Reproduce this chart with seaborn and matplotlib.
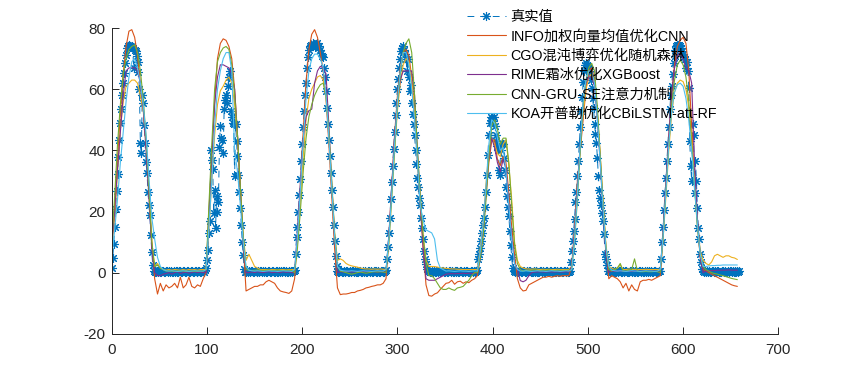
import numpy as np
import matplotlib
matplotlib.use("Agg")
import matplotlib.pyplot as plt
import seaborn as sns

# ---------------- data ----------------
# true values, one value per sample index (0..659), written per day-cycle / night segment
true_c1 = [1.6, 4.9, 9.3, 14.8, 20.8, 26.8, 32.3, 37.8, 43.3, 48.8,
           53.7, 58.1, 61.9, 65.2, 68.5, 71.2, 73.4, 74.2, 74.5, 74.0,
           73.8, 74.3, 73.5, 66.8, 73.0, 72.5, 71.0, 69.0, 65.7, 60.0,
           42.3, 39.0, 58.1, 55.4, 48.3, 42.3, 36.3, 32.5, 26.5, 22.0,
           18.8, 12.3, 6.8, 2.4, 0.6, 0.2]
true_f1 = [0.3, 0.5, 0.2, 0.4, 0.6, 0.3, 0.1, 0.4, 0.5, 0.2,
           0.3, 0.6, 0.4, 0.2, 0.5, 0.3, 0.4, 0.1, 0.3, 0.5,
           0.2, 0.4, 0.6, 0.3, 0.2, 0.5, 0.4, 0.3, 0.1, 0.4,
           0.5, 0.2, 0.3, 0.6, 0.4, 0.2, 0.3, 0.5, 0.4, 0.1,
           0.3, 0.4, 0.6, 0.2, 0.3, 0.5, 0.4, 0.2, 0.3, 0.4,
           0.5]
true_c2 = [0.3, 0.8, 1.5, 4.0, 7.5, 13.0, 17.0, 40.0, 37.0, 34.0,
           19.5, 27.0, 14.5, 25.0, 20.0, 23.0, 41.0, 48.0, 44.0, 43.5,
           39.0, 53.5, 56.5, 58.0, 55.5, 61.0, 64.0, 66.0, 53.0, 51.0,
           49.0, 48.5, 31.5, 48.5, 43.0, 38.0, 32.0, 26.5, 21.0, 15.5,
           10.0, 5.7, 1.3, 0.3]
true_f2 = [0.2, 0.4, 0.3, 0.5, 0.1, 0.4, 0.6, 0.3, 0.2, 0.5,
           0.4, 0.3, 0.1, 0.5, 0.2, 0.4, 0.6, 0.3, 0.4, 0.2,
           0.5, 0.3, 0.1, 0.4, 0.6, 0.2, 0.3, 0.5, 0.4, 0.2,
           0.3, 0.6, 0.4, 0.1, 0.3, 0.5, 0.2, 0.4, 0.3, 0.5,
           0.6, 0.2, 0.4, 0.3, 0.1, 0.5, 0.3, 0.4, 0.2, 0.5,
           0.6]
true_c3 = [1.0, 6.0, 11.5, 15.0, 20.0, 25.5, 30.5, 36.5, 42.0, 47.5,
           53.0, 58.0, 62.0, 67.0, 70.5, 73.0, 74.0, 74.5, 74.0, 75.0,
           74.5, 74.0, 74.5, 75.0, 74.0, 73.5, 74.0, 73.0, 72.0, 71.0,
           70.5, 67.0, 64.0, 59.5, 54.0, 48.5, 43.5, 38.0, 32.5, 27.0,
           21.5, 15.5, 10.5, 5.5, 2.3, 0.5]
true_f3 = [0.3, 0.2, 0.5, 0.4, 0.1, 0.3, 0.6, 0.2, 0.4, 0.5,
           0.3, 0.1, 0.4, 0.2, 0.5, 0.6, 0.3, 0.4, 0.2, 0.1,
           0.5, 0.3, 0.4, 0.6, 0.2, 0.3, 0.5, 0.1, 0.4, 0.3,
           0.2, 0.5, 0.4, 0.3, 0.6, 0.1, 0.2, 0.4, 0.5, 0.3,
           0.4, 0.2, 0.6, 0.3, 0.1, 0.5, 0.4, 0.2, 0.3]
true_c4 = [0.5, 1.0, 4.5, 8.5, 13.0, 18.0, 24.0, 29.5, 35.0, 40.5,
           46.0, 51.5, 55.5, 60.0, 63.5, 67.0, 70.0, 72.5, 73.5, 74.0,
           73.0, 71.5, 70.0, 66.0, 70.0, 64.0, 59.5, 61.5, 55.5, 52.0,
           48.5, 45.0, 40.0, 35.5, 31.0, 28.0, 24.5, 22.0, 18.0, 14.5,
           11.0, 7.0, 4.5, 2.8, 1.2, 0.4]
true_f4 = [0.4, 0.2, 0.3, 0.5, 0.1, 0.6, 0.3, 0.4, 0.2, 0.5,
           0.3, 0.4, 0.1, 0.2, 0.6, 0.5, 0.3, 0.2, 0.4, 0.1,
           0.3, 0.5, 0.6, 0.2, 0.4, 0.3, 0.1, 0.5, 0.2, 0.4,
           0.6, 0.3, 0.2, 0.4, 0.5, 0.1, 0.3, 0.6, 0.2, 0.4,
           0.5, 0.3, 0.2, 0.1, 0.4, 0.6, 0.3, 0.5, 0.2, 0.4]
true_c5 = [0.5, 1.0, 4.5, 6.0, 8.0, 10.5, 13.0, 15.5, 18.0, 21.5,
           26.5, 32.0, 38.5, 45.0, 49.0, 51.0, 50.5, 49.5, 51.0, 48.0,
           45.0, 43.0, 41.5, 40.0, 33.5, 32.0, 40.0, 42.5, 42.0, 37.5,
           33.5, 28.0, 25.0, 21.5, 18.5, 13.5, 9.0, 5.0, 1.6, 0.4]
true_f5 = [0.2, 0.4, 0.5, 0.3, 0.1, 0.6, 0.4, 0.2, 0.3, 0.5,
           0.4, 0.1, 0.3, 0.6, 0.2, 0.5, 0.4, 0.3, 0.2, 0.1,
           0.5, 0.3, 0.4, 0.6, 0.2, 0.1, 0.3, 0.5, 0.4, 0.2,
           0.6, 0.3, 0.1, 0.4, 0.5, 0.2, 0.3, 0.4, 0.6, 0.1,
           0.2, 0.5, 0.3, 0.4, 0.2, 0.6, 0.1, 0.3, 0.5, 0.4,
           0.2, 0.3, 0.6, 0.4, 0.1, 0.5, 0.3, 0.2]
true_c6 = [0.5, 3.5, 7.0, 10.5, 13.5, 17.5, 23.0, 26.5, 31.5, 36.5,
           42.0, 47.5, 53.0, 57.5, 62.5, 66.0, 68.0, 68.5, 68.0, 67.5,
           66.5, 65.0, 63.0, 60.5, 57.0, 54.0, 48.5, 45.5, 42.5, 37.5,
           31.5, 27.0, 24.5, 22.0, 19.5, 17.0, 12.5, 6.0, 4.5, 2.5,
           0.5]
true_f6 = [0.5, 0.3, 0.2, 0.4, 0.6, 0.1, 0.3, 0.5, 0.2, 0.4,
           0.3, 0.6, 0.4, 0.1, 0.2, 0.5, 0.3, 0.4, 0.6, 0.2,
           0.1, 0.3, 0.5, 0.4, 0.2, 0.6, 0.3, 0.1, 0.4, 0.5,
           0.2, 0.3, 0.4, 0.6, 0.1, 0.5, 0.2, 0.3, 0.4, 0.2,
           0.6, 0.3, 0.5, 0.1, 0.4, 0.2, 0.3, 0.6, 0.4, 0.5,
           0.2, 0.1, 0.3, 0.4]
true_c7 = [0.5, 4.5, 10.0, 15.0, 20.5, 26.0, 31.0, 36.5, 42.0, 47.5,
           53.5, 58.0, 61.0, 65.0, 68.5, 71.0, 73.0, 74.0, 74.5, 74.5,
           74.5, 74.0, 73.5, 72.5, 71.5, 70.5, 70.0, 67.0, 69.0, 66.0,
           60.5, 43.0, 35.0, 30.0, 48.5, 45.0, 26.0, 36.5, 30.0, 21.0,
           14.5, 11.0, 6.0, 3.5, 1.3, 0.4]
true_f7 = [0.3, 0.5, 0.2, 0.4, 0.1, 0.6, 0.3, 0.2, 0.5, 0.4,
           0.1, 0.3, 0.6, 0.2, 0.4, 0.5, 0.3, 0.1, 0.2, 0.4,
           0.6, 0.3, 0.5, 0.2, 0.1, 0.4, 0.3, 0.5, 0.6, 0.2,
           0.4, 0.1, 0.3, 0.5, 0.2, 0.4, 0.3, 0.6]

# model predictions, read every 3rd sample (0, 3, 6, ..., 657)
info_cnn = [10, 22, 37, 52, 65, 74, 79, 79.5, 77, 71, 62, 54, 42, 26, 10, -2,
            -7, -3.5, -6, -4, -5, -4.5, -3.5, -5, -1.5, -5, -4, -1.5, -4.5, -5, -4, -4.5, -2,
            0, 20, 38, 56, 70, 75, 76.5, 76, 74, 70, 60, 45, 28, 10, -6,
            -5.5, -5, -4.5, -4.5, -4, -4, -3, -2.5, -3, -3.5, -5, -6, -6.3, -6.5, -6.8, -6,
            -2, 12, 28, 46, 62, 73, 78, 79.5, 77, 72, 66, 57, 42, 25, 8, -5,
            -7.2, -7, -7, -6.8, -6.5, -6.5, -6, -5.8, -5.5, -5, -4.8, -4.5, -4.3, -4, -4, -3.5,
            -2, 12, 28, 45, 58, 67, 72, 73, 71, 64, 52, 36, 22, 8, -4, -7.5,
            -7.7, -7, -6.6, -5.5, -4.5, -3.5, -3.3, -2.5, -3.8, -3, -2.8, -3.5, -3, -3.3, -2.5, -2,
            -1, 5, 13, 25, 36, 43, 43.5, 37, 35, 38, 36, 26, 15, 6,
            -2, -5, -6, -5.8, -4, -3.5, -3, -2.5, -2, -1.5, -1.5, -1.2, -1.5, -1.2, -1, -1.2, -1, -1, -1,
            2, 14, 30, 40, 50, 60, 66, 67, 63, 52, 38, 22, 8, -2,
            -1, -1.5, -2, -3, -5, -3.5, -6, -4, -5.5, -6, -3, -2.5, -2.5, -2.2, -2.5, -2, -1.5,
            -1, 12, 28, 44, 58, 68, 74, 76, 77, 75, 66, 48, 30, 16, 5, 1,
            0.5, 0, -0.5, -1, -1.5, -2, -2.5, -3, -3.5, -4, -4.3, -4.5]
cgo_rf = [8, 18, 33, 47, 56, 61, 62, 63, 63, 62, 58, 53, 42, 27, 10, 2,
          3, 1.5, 1, 0.8, 1, 0.8, 1, 0.9, 0.8, 1, 0.8, 1, 0.9, 1, 0.8, 1, 1,
          1, 14, 30, 45, 55, 59.5, 61, 63, 64, 62, 55, 44, 28, 12, 4,
          6, 4, 2, 1.5, 1, 1, 1, 0.9, 1, 1, 0.9, 1, 1, 0.9, 1, 1,
          1, 10, 24, 38, 50, 57, 60, 62, 64, 64.5, 63, 57, 45, 29, 13, 4,
          4.5, 4, 3, 2.5, 2.2, 2, 1.8, 1.5, 1.3, 1.2, 1.2, 1.1, 1.2, 1.1, 1.2, 1.1,
          1, 10, 25, 40, 53, 62, 68, 70, 69, 63, 52, 38, 24, 12, 4, 2,
          2, 2, 1.8, 1.6, 1.5, 1.4, 1.3, 1.2, 1.2, 1.1, 1.1, 1, 1, 1, 1, 1,
          1, 8, 16, 29, 40, 44, 42, 39, 38, 42, 43.5, 35, 24, 10,
          4, 2, 1.5, 1.2, 1.2, 1.1, 1.2, 1.1, 1, 1.1, 1, 1.1, 1, 1, 1.1, 1, 1, 1, 1,
          2, 13, 28, 41, 52, 60, 64, 65, 62, 52, 38, 23, 9, 2,
          1.5, 1, 1.5, 2.5, 1, 1, 1.2, 1, 1.1, 1, 1, 1, 1.1, 1, 1, 1, 1,
          1, 11, 25, 40, 52, 59, 62, 63, 62.5, 60, 54, 44, 30, 17, 7, 4,
          3, 2.5, 3.5, 5.5, 6, 5.5, 5, 5.5, 5.5, 5, 4.8, 4.3]
rime_xgb = [9, 20, 34, 46, 58, 66, 67, 67, 67, 66, 62, 54, 40, 25, 8, 0,
            -1, -1, -0.5, -0.3, 0, -0.5, 0, 0.3, -0.3, 0, 0.2, -0.2, 0, 0.3, 0, 0.2, 0,
            0, 18, 38, 55, 64, 68, 68, 67.5, 67, 65, 60, 45, 27, 10, 0,
            0, 0.2, 0, 0.3, 0.1, 0, 0.2, 0.3, 0, 0.1, 0.2, 0, 0.3, 0.1, 0.2, 0,
            0, 14, 29, 44, 51, 53, 53.5, 62, 66, 67.5, 67, 65, 48, 29, 12, 0,
            0.3, 0.2, 0.4, 0.3, 0.2, 0.3, 0.4, 0.2, 0.3, 0.3, 0.2, 0.4, 0.3, 0.2, 0.3, 0.3,
            0, 12, 28, 44, 56, 63, 66, 66, 66, 66, 58, 40, 24, 8, -2, -2.5,
            -2.5, -2.5, -2, -1.5, -1, -0.5, -0.4, -0.3, -0.4, -0.3, -0.3, -0.2, -0.3, -0.2, -0.3, -0.2,
            0, 6, 14, 26, 38, 44, 41, 36, 33, 37, 34, 22, 12, 3,
            1, -2.6, -3, -2.5, -1, 0, 0.2, 0.2, 0.3, 0.2, 0.2, 0.3, 0.2, 0.2, 0.3, 0.2, 0.2, 0.3, 0.2,
            2, 13, 28, 42, 55, 62, 64, 64, 61, 50, 36, 20, 6, 0,
            0.5, 0.4, 0.5, 0.6, 0.4, 0.5, 0.5, 0.4, 0.5, 0.6, 0.4, 0.5, 0.5, 0.4, 0.5, 0.5, 0.4,
            0, 14, 30, 45, 58, 67, 71, 72, 70, 67, 66, 62, 36, 18, 5, 0,
            0.5, 0.6, 0.7, 0.7, 0.8, 0.8, 0.8, 0.8, 0.9, 0.8, 0.8, 0.8]
cnn_gru_se = [10, 25, 42, 55, 65, 70, 73, 74, 74.5, 72, 66, 57, 44, 28, 10, 2,
              2.5, 1.5, 1, 0.5, 0.6, 0.5, 0.4, 0.5, 0.6, 0.5, 0.4, 0.5, 0.5, 0.4, 0.5, 0.6, 0.5,
              1, 22, 42, 60, 69, 72, 73.5, 74, 73, 68, 58, 45, 28, 12, 1,
              0.8, 0.7, 0.8, 0.9, 0.8, 0.7, 0.8, 0.8, 0.7, 0.8, 0.9, 0.8, 0.7, 0.8, 0.8, 0.7,
              0, 8, 20, 33, 44, 51, 55, 58, 60, 61.5, 62, 58, 46, 30, 13, 2,
              0.5, 0.3, 0, -0.3, -0.5, -0.3, 0, 0.2, 0, -0.2, 0, 0.2, 0.3, 0.2, 0.3, 0.2,
              0, 10, 25, 40, 55, 65, 72, 75, 76.5, 72, 58, 40, 25, 12, 3, -1,
              -1, -2, -3.5, -5, -5.5, -5.5, -5, -5.5, -5.8, -5, -4.8, -4.5, -3.5, -2.5, -1, 0,
              0, 5, 12, 24, 38, 48, 50, 47, 42, 44, 44, 36, 22, 9,
              3, 1, 0.5, 0.8, 0.7, 0.8, 0.9, 0.8, 0.7, 0.8, 0.8, 0.9, 0.8, 0.7, 0.8, 0.8, 0.7, 0.8, 0.8,
              1, 10, 24, 40, 55, 63, 67, 68.5, 66, 54, 38, 22, 8, 1,
              0.5, 1, 1.5, 3, 0.5, 0.5, 0.8, 1, 4.5, 0.5, 0.3, 0.3, 0.4, 0.3, 0.3, 0.4, 0.3,
              0, 12, 27, 42, 55, 63, 68, 69.5, 68, 64, 56, 42, 28, 15, 6, 2,
              1, 0.5, 0, -0.3, -0.5, -0.8, -1, -1.3, -1.6, -1.9, -2.1, -2.3]
koa_cbilstm = [5, 14, 24, 36, 46, 56, 64, 69, 70, 67, 62, 55, 45, 31, 18, 11,
               5, 2, 1, 0.6, 0.5, 0.6, 0.5, 0.4, 0.5, 0.6, 0.5, 0.4, 0.5, 0.6, 0.5, 0.5, 0.5,
               1, 15, 30, 48, 60, 66, 70, 72, 72, 66, 40, 33, 22, 10, 2,
               0.8, 0.6, 0.5, 0.6, 0.5, 0.4, 0.5, 0.6, 0.5, 0.5, 0.4, 0.5, 0.6, 0.5, 0.5, 0.4,
               1, 12, 27, 43, 57, 66, 70, 71.5, 71.5, 70, 67, 58, 44, 28, 12, 2,
               0.8, 0.6, 0.5, 0.5, 0.6, 0.5, 0.4, 0.5, 0.6, 0.5, 0.5, 0.4, 0.5, 0.6, 0.5, 0.5,
               1, 11, 26, 42, 56, 66, 72, 72, 68, 60, 50, 36, 22, 17, 14, 13.5,
               13, 11, 4, 1.5, 1, 0.5, 0.6, 0.5, 0.4, 0.5, 0.6, 0.5, 0.5, 0.4, 0.5, 0.6,
               0.5, 7, 16, 28, 42, 50, 49, 44, 40, 41, 33, 22, 11, 3,
               1, 0.5, 0.5, 0.6, 0.5, 0.4, 0.5, 0.6, 0.5, 0.5, 0.4, 0.5, 0.6, 0.5, 0.5, 0.4, 0.5, 0.6, 0.5,
               1, 11, 26, 42, 56, 63, 66, 66, 62, 50, 36, 21, 8, 2,
               0.8, 0.6, 0.5, 0.6, 0.5, 0.4, 0.5, 0.6, 0.5, 0.5, 0.4, 0.5, 0.6, 0.5, 0.5, 0.4, 0.5,
               1, 12, 27, 42, 53, 59, 61.5, 62, 61, 57, 50, 40, 28, 16, 6, 2,
               2, 2.2, 2.3, 2.3, 2.4, 2.4, 2.5, 2.5, 2.5, 2.5, 2.5, 2.5]

labels = ["真实值", "INFO加权向量均值优化CNN", "CGO混沌博弈优化随机森林",
          "RIME霜冰优化XGBoost", "CNN-GRU-SE注意力机制", "KOA开普勒优化CBiLSTM-att-RF"]
colors = ["#0072BD", "#D95319", "#EDB120", "#7E2F8E", "#77AC30", "#4DBEEE"]
x_ticks = [0, 100, 200, 300, 400, 500, 600, 700]
y_ticks = [-20, 0, 20, 40, 60, 80]

# ---------------- plot ----------------
sns.set_theme(style="ticks")
plt.rcParams["font.family"] = ["Liberation Sans", "Noto Sans CJK SC", "DejaVu Sans"]
plt.rcParams["axes.unicode_minus"] = False

true_vals = np.array(true_c1 + true_f1 + true_c2 + true_f2 + true_c3 + true_f3 + true_c4 +
                     true_f4 + true_c5 + true_f5 + true_c6 + true_f6 + true_c7 + true_f7)
x_true = np.arange(len(true_vals))

fig = plt.figure(figsize=(8.6, 3.75), dpi=100)
ax = fig.add_axes([0.13, 0.11, 0.775, 0.815])

sns.lineplot(x=x_true, y=true_vals, ax=ax, estimator=None, sort=False,
             color=colors[0], lw=0.7, linestyle=(0, (7, 6)),
             marker=(8, 2, 0), markersize=6.5, markeredgewidth=0.8,
             markeredgecolor=colors[0], markerfacecolor=colors[0], label=labels[0])

preds = [info_cnn, cgo_rf, rime_xgb, cnn_gru_se, koa_cbilstm]
for vals, lab, col in zip(preds, labels[1:], colors[1:]):
    v = np.array(vals, dtype=float)
    xp = np.arange(len(v)) * 3
    sns.lineplot(x=xp, y=v, ax=ax, estimator=None, sort=False,
                 color=col, lw=0.8, label=lab)

ax.set_xlim(0, 700)
ax.set_ylim(-20, 80)
ax.set_xticks(x_ticks)
ax.set_yticks(y_ticks)
ax.set_xticklabels([str(t) for t in x_ticks])
ax.set_yticklabels([str(t) for t in y_ticks])
ax.set_xlabel("")
ax.set_ylabel("")
sns.despine(ax=ax)
for s in ["left", "bottom"]:
    ax.spines[s].set_color("#262626")
    ax.spines[s].set_linewidth(0.7)
ax.tick_params(direction="in", length=4.8, width=0.7, colors="#262626", labelsize=11)
ax.tick_params(axis="x", pad=7)
ax.tick_params(axis="y", pad=4.5)

leg = ax.legend(loc="upper left", bbox_to_anchor=(467 / 860, 1 - 10 / 375),
                bbox_transform=fig.transFigure, frameon=False, fontsize=10.3,
                handlelength=2.7, handletextpad=0.35, labelspacing=0.38,
                borderpad=0, borderaxespad=0)
for t in leg.get_texts():
    t.set_color("#000000")

fig.savefig("out.png", dpi=100)
